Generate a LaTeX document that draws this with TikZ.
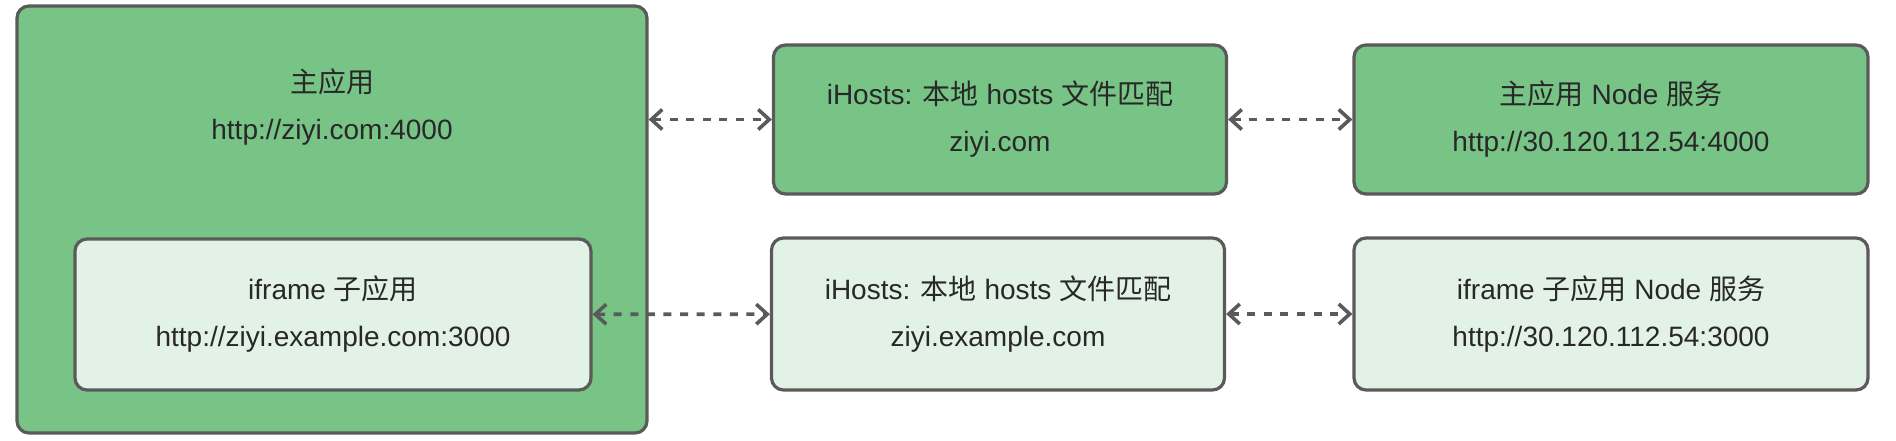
\documentclass[tikz,border=0pt]{standalone}
\usepackage{fontspec}
\setmainfont{Liberation Sans}
\newfontfamily\cjk{Noto Sans CJK SC}
\newcommand{\zh}[1]{{\cjk #1}}
\usetikzlibrary{arrows.meta,positioning}
\definecolor{appgreen}{HTML}{77C486}
\definecolor{applight}{HTML}{E2F2E6}
\definecolor{edgegray}{HTML}{5A5A5A}
\definecolor{textgray}{HTML}{282828}
\tikzset{
  label text/.style={text=textgray, align=center, font=\fontsize{14}{23.5}\selectfont},
  box/.style={draw=edgegray, line width=1.6pt, rounded corners=6pt, inner sep=0pt, label text},
  mainbox/.style={box, fill=appgreen},
  subbox/.style={box, fill=applight},
  link/.style={draw=edgegray, line width=1.8pt, dash pattern=on 4pt off 4.3pt,
    {Straight Barb[length=5.5pt,width=10pt]}-{Straight Barb[length=5.5pt,width=10pt]}},
}

\begin{document}
\begin{tikzpicture}[x=1pt,y=1pt]
\useasboundingbox (0,0) rectangle (948,-220);
% main app, with the iframe app inside it
\node[mainbox, minimum width=315pt, minimum height=213.5pt] (main) at (166,-109.75) {};
\node[label text] (maintext) at (166,-53.5) {\zh{主应用}\\http://ziyi.com:4000};
\node[subbox, minimum width=258pt, minimum height=75.5pt] (sub) at (166.5,-157.25)
  {iframe \zh{子应用}\\http://ziyi.example.com:3000};
% iHosts
\node[mainbox, minimum width=226.5pt, minimum height=74.5pt] (hostmain) at (500,-59.75)
  {iHosts: \zh{本地} hosts \zh{文件匹配}\\ziyi.com};
\node[subbox, minimum width=226.5pt, minimum height=76pt] (hostsub) at (499,-157)
  {iHosts: \zh{本地} hosts \zh{文件匹配}\\ziyi.example.com};
% node services
\node[mainbox, minimum width=257pt, minimum height=74.5pt] (nodemain) at (805.5,-59.75)
  {\zh{主应用} Node \zh{服务}\\http://30.120.112.54:4000};
\node[subbox, minimum width=257pt, minimum height=76pt] (nodesub) at (805.5,-157)
  {iframe \zh{子应用} Node \zh{服务}\\http://30.120.112.54:3000};
% links
\draw[link] (main.east |- hostmain.west) -- (hostmain.west);
\draw[link] (hostmain) -- (nodemain);
\draw[link] (sub) -- (hostsub);
\draw[link] (hostsub) -- (nodesub);
\end{tikzpicture}
\end{document}
